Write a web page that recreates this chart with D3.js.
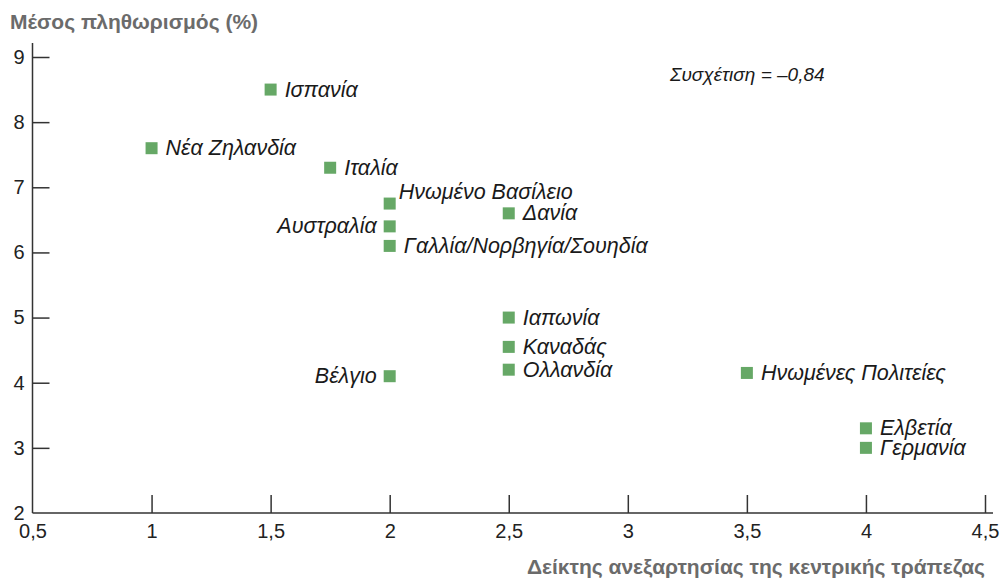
<!DOCTYPE html>
<html>
<head>
<meta charset="utf-8">
<script src="https://cdn.jsdelivr.net/npm/d3@7"></script>
<style>
  body { margin: 0; background: #fff; }
  svg { display: block; font-family: "Liberation Sans", Arial, sans-serif; }
  .tick text { font-size: 20px; fill: #222; }
  .tick line { stroke: #333; stroke-width: 1.5; }
  .lbl { font-size: 21.5px; font-style: italic; fill: #1a1a1a; }
  .title { font-size: 21px; font-weight: bold; fill: #6b6b6b; }
</style>
</head>
<body>
<svg id="chart" width="1000" height="580"></svg>
<script>
// Countries, central bank independence index, average inflation (%)
const countries = ["Ισπανία", "Νέα Ζηλανδία", "Ιταλία", "Ηνωμένο Βασίλειο", "Αυστραλία",
  "Γαλλία/Νορβηγία/Σουηδία", "Δανία", "Ιαπωνία", "Καναδάς", "Ολλανδία", "Βέλγιο",
  "Ηνωμένες Πολιτείες", "Ελβετία", "Γερμανία"];
const independence = [1.5, 1, 1.75, 2, 2, 2, 2.5, 2.5, 2.5, 2.5, 2, 3.5, 4, 4];
const inflation = [8.5, 7.6, 7.3, 6.75, 6.4, 6.1, 6.6, 5.0, 4.55, 4.2, 4.1, 4.15, 3.3, 3.0];
// which side the label sits on
const labelSide = ["right", "right", "right", "above", "left", "right", "right", "right",
  "right", "right", "left", "right", "right", "right"];

const xTicks = [0.5, 1, 1.5, 2, 2.5, 3, 3.5, 4, 4.5];
const yTicks = [2, 3, 4, 5, 6, 7, 8, 9];

const data = countries.map((c, i) => ({
  name: c, x: independence[i], y: inflation[i], side: labelSide[i]
}));

const svg = d3.select("#chart");

const x = d3.scaleLinear().domain([0.5, 4.5]).range([32.5, 985]);
const y = d3.scaleLinear().domain([2, 9]).range([513, 57]);

const comma = d => String(d).replace(".", ",");

// axes, ticks pointing inward
const gx = svg.append("g")
  .attr("transform", `translate(0,${y(2)})`)
  .call(d3.axisBottom(x).tickValues(xTicks).tickSize(-18).tickPadding(6).tickFormat(comma));
gx.select(".domain").remove();
gx.selectAll(".tick text").attr("dy", "0.95em");

const gy = svg.append("g")
  .attr("transform", `translate(${x(0.5)},0)`)
  .call(d3.axisLeft(y).tickValues(yTicks).tickSize(-17).tickPadding(8).tickFormat(d3.format("d")));
gy.select(".domain").remove();
// no tick mark at origin
gx.selectAll(".tick").filter(d => d === 0.5).select("line").remove();
gy.selectAll(".tick").filter(d => d === 2).select("line").remove();

// axis lines, a little longer than the data range
svg.append("line")
  .attr("x1", x(0.5)).attr("x2", x(4.5) + 8)
  .attr("y1", y(2)).attr("y2", y(2))
  .attr("stroke", "#333").attr("stroke-width", 1.5);
svg.append("line")
  .attr("x1", x(0.5)).attr("x2", x(0.5))
  .attr("y1", y(2)).attr("y2", y(9) - 14)
  .attr("stroke", "#333").attr("stroke-width", 1.5);

// points
const s = 12;
svg.selectAll(".pt")
  .data(data)
  .enter()
  .append("rect")
  .attr("class", "pt")
  .attr("x", d => x(d.x) - s / 2)
  .attr("y", d => y(d.y) - s / 2)
  .attr("width", s)
  .attr("height", s)
  .attr("fill", "#66a866");

// labels
svg.selectAll(".lbl")
  .data(data)
  .enter()
  .append("text")
  .attr("class", "lbl")
  .attr("x", d => d.side === "left" ? x(d.x) - 13 : x(d.x) + (d.side === "above" ? 9 : 14))
  .attr("y", d => y(d.y) + (d.side === "above" ? -5 : 7))
  .attr("text-anchor", d => d.side === "left" ? "end" : "start")
  .text(d => d.name);

// correlation note
svg.append("text")
  .attr("class", "lbl")
  .attr("x", 670)
  .attr("y", 81)
  .style("font-size", "19px")
  .text("Συσχέτιση = –0,84");

// axis titles
svg.append("text")
  .attr("class", "title")
  .attr("x", 10)
  .attr("y", 29)
  .text("Μέσος πληθωρισμός (%)");

svg.append("text")
  .attr("class", "title")
  .attr("x", 985)
  .attr("y", 574)
  .attr("text-anchor", "end")
  .text("Δείκτης ανεξαρτησίας της κεντρικής τράπεζας");
</script>
</body>
</html>
